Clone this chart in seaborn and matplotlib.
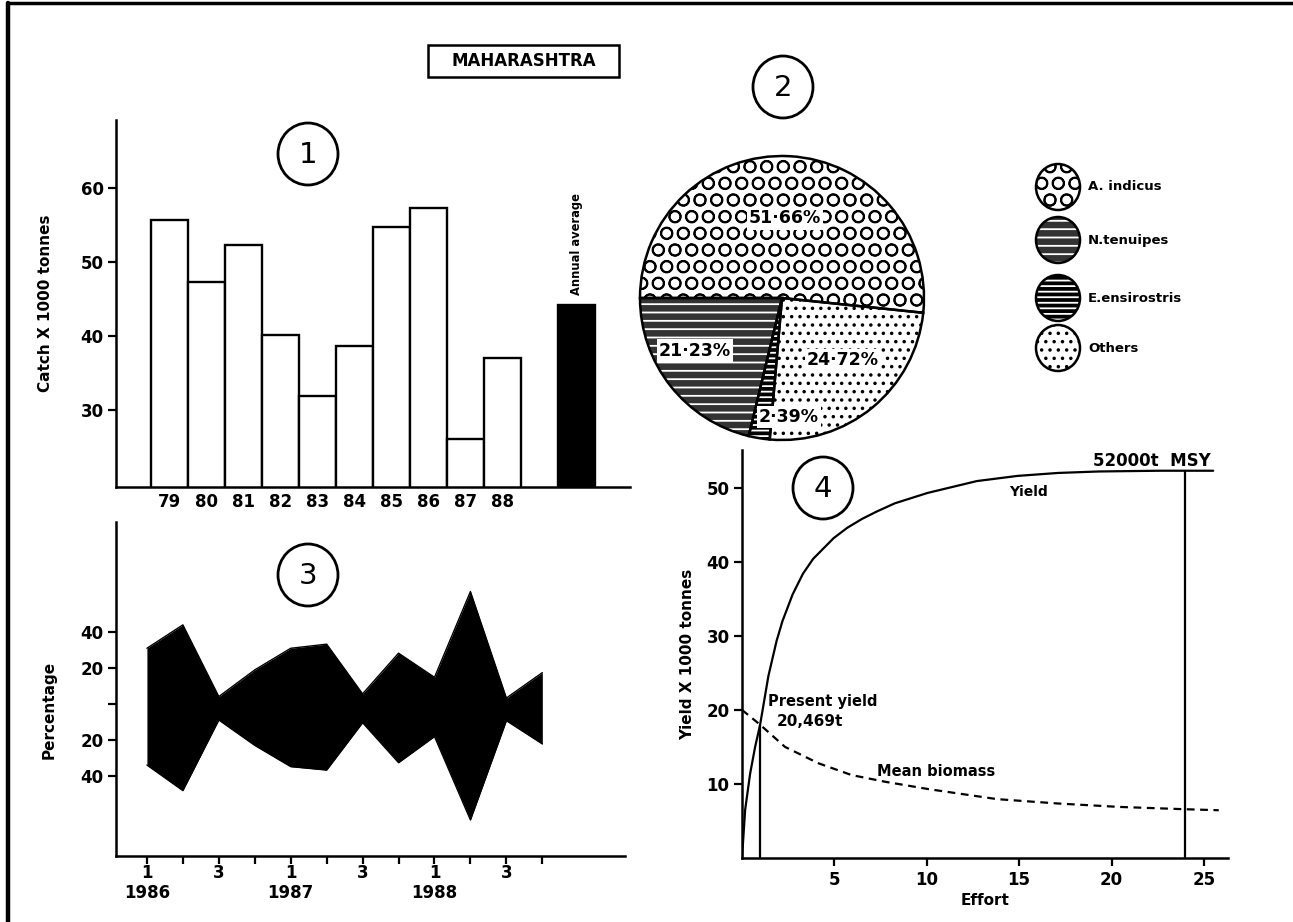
import numpy as np
import pandas as pd
import seaborn as sns
import matplotlib
matplotlib.use("Agg")
import matplotlib.pyplot as plt
from matplotlib.patches import Ellipse, Rectangle

# panel 1 - annual catch, Maharashtra
years = ["79", "80", "81", "82", "83", "84", "85", "86", "87", "88"]
catch = [55.7, 47.3, 52.3, 40.2, 31.9, 38.7, 54.7, 57.2, 26.1, 37.1]
avg_label = "Annual average"
avg_catch = 44.2

# panel 2 - species composition (pie order, counter-clockwise from the left)
pie_species = ["N.tenuipes", "E.ensirostris", "Others", "A. indicus"]
pie_shares = [21.23, 2.39, 24.72, 51.66]
pie_labels = ["21·23%", "2·39%", "24·72%", "51·66%"]
legend_species = ["A. indicus", "N.tenuipes", "E.ensirostris", "Others"]

# panel 3 - quarterly percentage, upper and lower halves
quarter_labels = ["1\n1986", "", "3", "", "1\n1987", "", "3", "", "1\n1988", "", "3", ""]
pct_upper = [30.9, 43.9, 4.1, 18.9, 30.9, 33.2, 5.6, 28.2, 14.8, 62.4, 3.3, 17.4]
pct_lower = [33.9, 48.1, 8.9, 23.0, 34.8, 36.7, 10.4, 32.6, 18.1, 64.4, 9.3, 22.2]

# panel 4 - yield / mean biomass against effort
effort_y = [0, 0.17, 0.44, 0.71, 0.98, 1.43, 1.87, 2.19, 2.74, 3.3, 3.85, 4.96,
            5.7, 6.5, 7.3, 8.27, 10.04, 12.7, 14.9, 17.1, 19.3, 22.6, 25.5]
yield_k = [0, 6.5, 11.4, 15.0, 18.0, 24.6, 29.3, 32.0, 35.6, 38.4, 40.4, 43.2,
           44.6, 45.8, 46.8, 47.9, 49.3, 50.9, 51.6, 52.0, 52.2, 52.3, 52.3]
effort_b = [0, 0.98, 2.33, 4.13, 5.93, 7.74, 10.1, 13.8, 17.1, 20.4, 23.8, 25.8]
biomass_k = [20.0, 18.0, 15.0, 12.8, 11.2, 10.3, 9.3, 7.95, 7.36, 6.9, 6.6, 6.45]
present_effort = 0.98
present_label = "20,469t"
msy_effort = 24.0
msy_k = 52.3
msy_label = "52000t  MSY"

sns.set_theme(style="ticks", rc={
    "text.color": "black", "axes.labelcolor": "black", "axes.edgecolor": "black",
    "xtick.color": "black", "ytick.color": "black", "axes.linewidth": 1.8,
    "hatch.linewidth": 1.3,
})
plt.rcParams["font.family"] = ["DejaVu Sans"]
plt.rcParams["font.weight"] = "bold"
plt.rcParams["axes.labelweight"] = "bold"

W, H = 1293, 922
fig = plt.figure(figsize=(W / 100, H / 100), dpi=100)
fig.patch.set_facecolor("white")


def px_axes(left, top, right, bottom):
    return fig.add_axes([left / W, 1 - bottom / H, (right - left) / W, (bottom - top) / H])


styles = {
    "A. indicus": dict(face="white", ink="black", hatch="O"),
    "N.tenuipes": dict(face="#333333", ink="white", hatch="--"),
    "E.ensirostris": dict(face="black", ink="white", hatch="---"),
    "Others": dict(face="white", ink="black", hatch=".."),
}

# ---------------- panel 1
ax1 = px_axes(116, 120, 630, 487)
df1 = pd.DataFrame({
    "year": years + [avg_label],
    "catch": catch + [avg_catch],
    "kind": ["year"] * len(years) + ["avg"],
})
order = years + ["", avg_label]
sns.barplot(data=df1, x="year", y="catch", hue="kind", order=order,
            palette={"year": "white", "avg": "black"}, saturation=1, dodge=False,
            width=1.0, edgecolor="black", linewidth=1.7, errorbar=None,
            legend=False, ax=ax1)
ax1.set_xlim(-1.45, 12.45)
ax1.set_ylim(19.7, 69.1)
ax1.set_xticks(range(len(years)))
ax1.set_xticklabels(years)
ax1.set_yticks([30, 40, 50, 60])
ax1.tick_params(axis="x", length=0, pad=4, labelsize=12)
ax1.tick_params(axis="y", length=6, width=1.6, labelsize=12, pad=3)
ax1.set_xlabel("")
ax1.set_ylabel("Catch X 1000 tonnes", fontsize=11)
ax1.yaxis.set_label_coords(-(116 - 53) / 514, 0.5)
ax1.text(order.index(avg_label), avg_catch + 1.3, avg_label, rotation=90,
         ha="center", va="bottom", fontsize=8.3)
sns.despine(ax=ax1)

# ---------------- panel 2
ax2 = px_axes(632, 148, 932, 448)
wedges, _ = ax2.pie(pie_shares, startangle=180, counterclock=True, radius=1,
                    colors=[styles[s]["face"] for s in pie_species],
                    hatch=[styles[s]["hatch"] for s in pie_species],
                    wedgeprops=dict(linewidth=0))
for w, s in zip(wedges, pie_species):
    w.set_edgecolor(styles[s]["ink"])
ax2.pie(pie_shares, startangle=180, counterclock=True, radius=1,
        wedgeprops=dict(fill=False, edgecolor="black", linewidth=1.8))
label_xy = [(-0.615, -0.37), (0.05, -0.84), (0.43, -0.44), (0.02, 0.56)]
for (lx, ly), txt in zip(label_xy, pie_labels):
    ax2.text(lx, ly, txt, ha="center", va="center", fontsize=12.5,
             bbox=dict(boxstyle="square,pad=0.12", fc="white", ec="none"))
ax2.set_xlim(-150 / 142, 150 / 142)
ax2.set_ylim(-150 / 142, 150 / 142)

# ---------------- panel 3
ax3 = px_axes(116, 522, 625, 856)
q = np.arange(len(pct_upper))
lower = -np.array(pct_lower)
ax3.fill_between(q, pct_upper, lower, color="black", linewidth=0)
sns.lineplot(x=q, y=pct_upper, color="black", linewidth=1, ax=ax3)
sns.lineplot(x=q, y=lower, color="black", linewidth=1, ax=ax3)
ax3.set_xlim(-0.86, 13.3)
ax3.set_ylim(-84.4, 101)
ax3.set_xticks(q)
ax3.set_xticklabels(quarter_labels, linespacing=1.15)
ax3.set_yticks([-40, -20, 0, 20, 40])
ax3.set_yticklabels(["40", "20", "", "20", "40"])
ax3.tick_params(axis="x", length=6, width=1.6, labelsize=12, pad=0)
ax3.tick_params(axis="y", length=6, width=1.6, labelsize=12, pad=3)
ax3.set_ylabel("Percentage", fontsize=11)
ax3.yaxis.set_label_coords(-(116 - 57) / 509, (856 - 710) / 334)
sns.despine(ax=ax3)

# ---------------- panel 4
ax4 = px_axes(742, 450, 1228, 858)
sns.lineplot(x=effort_y, y=yield_k, color="black", linewidth=1.6, ax=ax4)
sns.lineplot(x=effort_b, y=biomass_k, color="black", linewidth=1.6,
             linestyle=(0, (3.5, 2.5)), ax=ax4)
present_yield = np.interp(present_effort, effort_y, yield_k)
ax4.vlines(present_effort, 0, present_yield, color="black", linewidth=1.6)
ax4.vlines(msy_effort, 0, msy_k, color="black", linewidth=1.6)
ax4.text(19.0, 53.6, msy_label, ha="left", va="center", fontsize=12)
ax4.text(15.5, 49.4, "Yield", ha="center", va="center", fontsize=10)
ax4.text(7.3, 11.7, "Mean biomass", ha="left", va="center", fontsize=10.5)
ax4.text(1.43, 21.2, "Present yield", ha="left", va="center", fontsize=10.5)
ax4.text(1.89, 18.4, present_label, ha="left", va="center", fontsize=11)
ax4.set_xlim(0, 26.3)
ax4.set_ylim(0, 55.1)
ax4.set_xticks([5, 10, 15, 20, 25])
ax4.set_yticks([10, 20, 30, 40, 50])
ax4.tick_params(axis="both", length=6, width=1.6, labelsize=12, pad=3)
ax4.set_xlabel("Effort", fontsize=11)
ax4.xaxis.set_label_coords(0.5, -(893 - 858) / 408)
ax4.set_ylabel("Yield X 1000 tonnes", fontsize=11)
ax4.yaxis.set_label_coords(-(742 - 695) / 486, 0.5)
sns.despine(ax=ax4)

# ---------------- overlay: frame, title box, panel numbers, pie legend
ov = fig.add_axes([0, 0, 1, 1], zorder=5)
ov.set_xlim(0, W)
ov.set_ylim(H, 0)
ov.axis("off")
ov.plot([8, 8], [3, H], color="black", linewidth=3.2)
ov.plot([8, W], [3, 3], color="black", linewidth=2.5)
ov.add_patch(Rectangle((428, 45), 191, 32, fill=False, edgecolor="black", linewidth=1.8))
ov.text(523.5, 61, "MAHARASHTRA", ha="center", va="center", fontsize=12)
for num, cx, cy in [("1", 308, 154), ("2", 783, 87), ("3", 308, 575), ("4", 823, 488)]:
    ov.add_patch(Ellipse((cx, cy), 60, 62, fill=False, edgecolor="black", linewidth=2))
    ov.text(cx, cy + 1, num, ha="center", va="center", fontsize=21, fontweight="normal")
for sp, ly in zip(legend_species, [187, 240, 298, 348]):
    st = styles[sp]
    ov.add_patch(Ellipse((1058, ly), 44, 46, facecolor=st["face"], edgecolor=st["ink"],
                         hatch=st["hatch"], linewidth=0))
    ov.add_patch(Ellipse((1058, ly), 44, 46, fill=False, edgecolor="black", linewidth=1.8))
    ov.text(1088, ly, sp, ha="left", va="center", fontsize=9.5)

fig.savefig("out.png", dpi=100, facecolor="white")
